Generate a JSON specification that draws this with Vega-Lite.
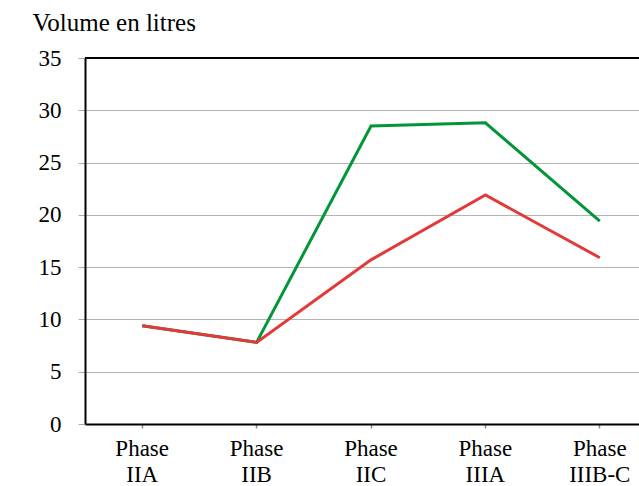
{
  "$schema": "https://vega.github.io/schema/vega-lite/v6.json",
  "width": 554,
  "height": 366,
  "autosize": {"type": "none"},
  "padding": {"left": 85, "top": 58, "right": 0, "bottom": 62},
  "config": {"view": {"stroke": null}, "font": "Liberation Serif"},
  "data": {
    "values": [
      {"series": "green", "phase": "Phase IIA", "volume": 9.4},
      {"series": "green", "phase": "Phase IIB", "volume": 7.8},
      {"series": "green", "phase": "Phase IIC", "volume": 28.5},
      {"series": "green", "phase": "Phase IIIA", "volume": 28.8},
      {"series": "green", "phase": "Phase IIIB-C", "volume": 19.4},
      {"series": "red", "phase": "Phase IIA", "volume": 9.4},
      {"series": "red", "phase": "Phase IIB", "volume": 7.8},
      {"series": "red", "phase": "Phase IIC", "volume": 15.7},
      {"series": "red", "phase": "Phase IIIA", "volume": 21.9},
      {"series": "red", "phase": "Phase IIIB-C", "volume": 15.9}
    ]
  },
  "layer": [
    {
      "mark": {"type": "line", "strokeWidth": 3},
      "encoding": {
        "x": {
          "field": "phase",
          "type": "nominal",
          "sort": ["Phase IIA", "Phase IIB", "Phase IIC", "Phase IIIA", "Phase IIIB-C"],
          "scale": {"type": "band", "range": [0, 572], "paddingInner": 0, "paddingOuter": 0},
          "axis": {
            "title": null,
            "domainColor": "#000000",
            "domainWidth": 2,
            "tickColor": "#888888",
            "tickSize": 4,
            "tickWidth": 1.5,
            "labelAngle": 0,
            "labelExpr": "split(datum.label, ' ')",
            "labelLineHeight": 26,
            "labelFontSize": 23,
            "labelColor": "#000000",
            "labelBaseline": "top",
            "labelPadding": 9,
            "grid": false
          }
        },
        "y": {
          "field": "volume",
          "type": "quantitative",
          "scale": {"domain": [0, 35], "nice": false},
          "axis": {
            "values": [0, 5, 10, 15, 20, 25, 30, 35],
            "title": "Volume en litres",
            "titleAngle": 0,
            "titleAlign": "left",
            "titleBaseline": "alphabetic",
            "titleX": -53,
            "titleY": -28,
            "titleFontSize": 25,
            "titleFontWeight": "normal",
            "titleColor": "#000000",
            "domainColor": "#000000",
            "domainWidth": 2,
            "tickColor": "#aaaaaa",
            "tickSize": 7,
            "labelFontSize": 23,
            "labelColor": "#000000",
            "labelPadding": 17,
            "grid": true,
            "gridColor": "#b4b4b4",
            "gridWidth": 1.2
          }
        },
        "color": {
          "field": "series",
          "type": "nominal",
          "scale": {"domain": ["green", "red"], "range": ["#03953a", "#e23a3a"]},
          "legend": null
        }
      }
    },
    {
      "mark": {"type": "rule", "color": "#000000", "strokeWidth": 2},
      "encoding": {"y": {"datum": 35}}
    }
  ]
}
